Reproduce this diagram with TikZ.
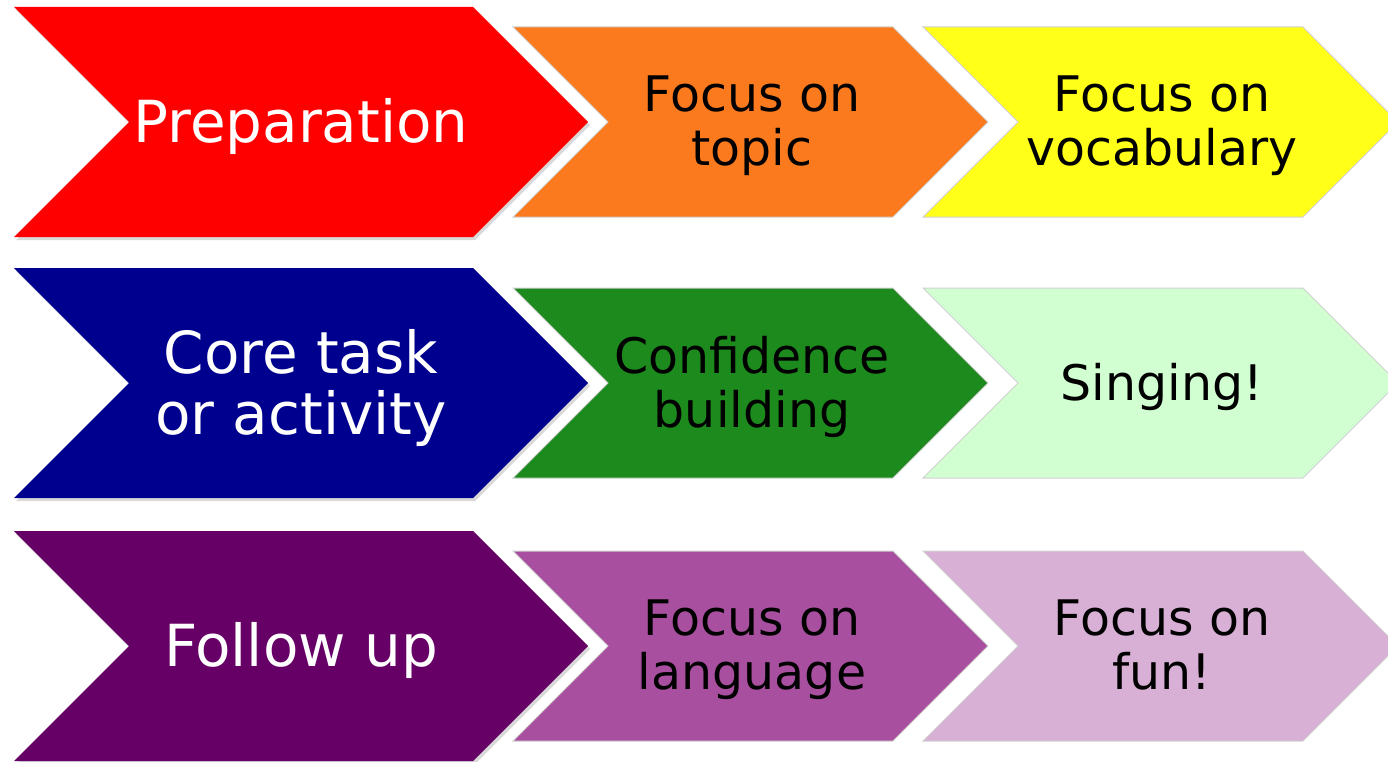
\documentclass[tikz,border=0pt]{standalone}
\usepackage{fontspec}
\setmainfont{DejaVu Sans}
\usetikzlibrary{shadows}

\definecolor{prepred}{HTML}{FF0000}
\definecolor{topicorange}{HTML}{FC7A1E}
\definecolor{vocabyellow}{HTML}{FFFF1A}
\definecolor{coreblue}{HTML}{00008E}
\definecolor{confgreen}{HTML}{1D8A1D}
\definecolor{singgreen}{HTML}{D2FFD2}
\definecolor{followpurple}{HTML}{660066}
\definecolor{langpurple}{HTML}{A8509F}
\definecolor{funpurple}{HTML}{D8B0D5}

\begin{document}
\begin{tikzpicture}[x=1pt,y=-1pt,
    bigtext/.style={text=white,align=center,font=\fontsize{58}{61}\selectfont,
      execute at begin node=\strut,execute at end node=\strut,yshift=-8pt},
    smalltext/.style={text=black,align=center,font=\fontsize{49}{54}\selectfont,
      execute at begin node=\strut,execute at end node=\strut,yshift=-7pt},
    bigchev/.style={drop shadow={shadow xshift=2pt,shadow yshift=-3pt,opacity=0.3}},
    smallchev/.style={draw=black!18,line width=1pt}]
  \useasboundingbox (0,0) rectangle (1388,762);

  \foreach \r/\cy/\ca/\cb/\cc/\ta/\tb/\tc in {
      1/122/prepred/topicorange/vocabyellow/Preparation/{Focus on\\topic}/{Focus on\\vocabulary},
      2/383/coreblue/confgreen/singgreen/{Core task\\or activity}/{Confidence\\building}/{Singing!},
      3/646/followpurple/langpurple/funpurple/Follow up/{Focus on\\language}/{Focus on\\fun!}} {
    % stage, then its two steps
    \fill[\ca,bigchev] (14,\cy-115) -- (473,\cy-115) -- (588,\cy) -- (473,\cy+115)
      -- (14,\cy+115) -- (129,\cy) -- cycle;
    \filldraw[fill=\cb,smallchev] (513,\cy-95) -- (893,\cy-95) -- (988,\cy) -- (893,\cy+95)
      -- (513,\cy+95) -- (608,\cy) -- cycle;
    \filldraw[fill=\cc,smallchev] (923,\cy-95) -- (1303,\cy-95) -- (1398,\cy) -- (1303,\cy+95)
      -- (923,\cy+95) -- (1018,\cy) -- cycle;

    \node[bigtext] (stage\r) at (301,\cy) {\ta};
    \node[smalltext] (stepa\r) at (752,\cy) {\tb};
    \node[smalltext] (stepb\r) at (1162,\cy) {\tc};
  }
\end{tikzpicture}
\end{document}
